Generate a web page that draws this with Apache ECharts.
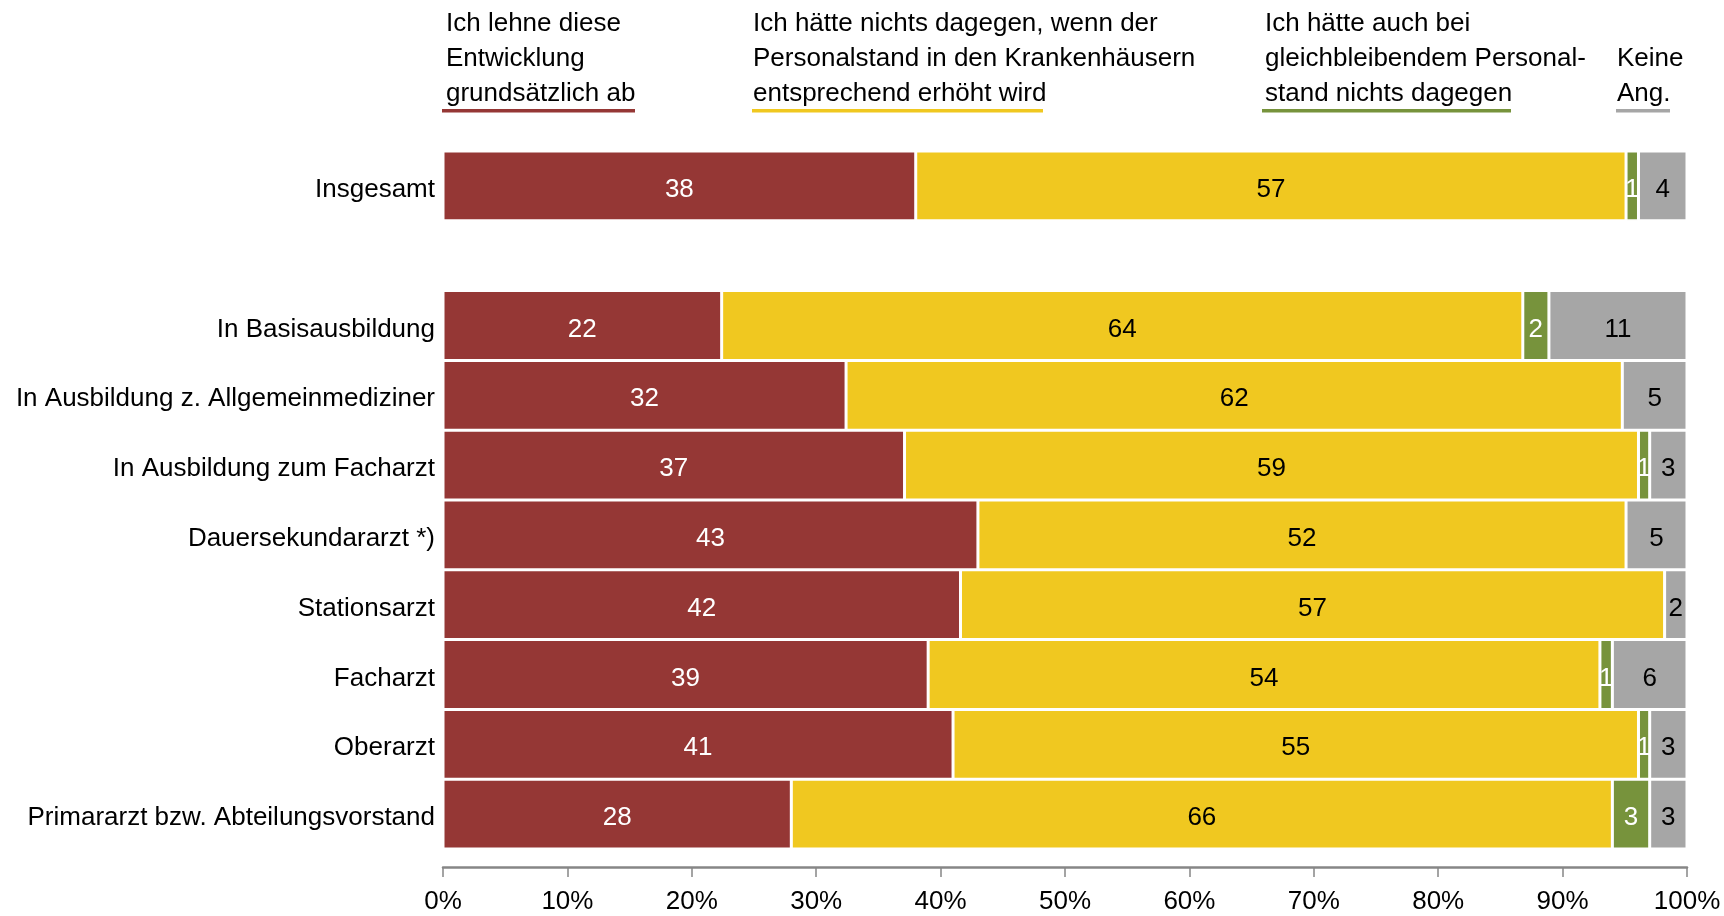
<!DOCTYPE html>
<html>
<head>
<meta charset="utf-8">
<script src="https://cdn.jsdelivr.net/npm/echarts@6/dist/echarts.min.js"></script>
<style>
html,body{margin:0;padding:0;background:#fff;}
#chart{width:1724px;height:916px;}
</style>
</head>
<body>
<div id="chart"></div>
<script>
// ---- data ----
const categories = ["Insgesamt", "", "In Basisausbildung", "In Ausbildung z. Allgemeinmediziner", "In Ausbildung zum Facharzt", "Dauersekundararzt *)", "Stationsarzt", "Facharzt", "Oberarzt", "Primararzt bzw. Abteilungsvorstand"];
const lehneAb   = [38.0, null, 22.4, 32.4, 37.1, 43.0, 41.6, 39.0, 41.0, 28.0];
const erhoeht   = [57.1, null, 64.4, 62.4, 59.0, 52.1, 56.6, 54.0, 55.1, 66.0];
const gleich    = [1.0,  null, 2.1,  0,    0.9,  0,    0,    1.0,  0.9,  3.0];
const keineAng  = [3.9,  null, 11.1, 5.2,  3.0,  4.9,  1.8,  6.0,  3.0,  3.0];
const seriesNames = [
  "Ich lehne diese\nEntwicklung\ngrundsätzlich ab",
  "Ich hätte nichts dagegen, wenn der\nPersonalstand in den Krankenhäusern\nentsprechend erhöht wird",
  "Ich hätte auch bei\ngleichbleibendem Personal-\nstand nichts dagegen",
  "Keine\nAng."
];
const tickLabels = ["0%", "10%", "20%", "30%", "40%", "50%", "60%", "70%", "80%", "90%", "100%"];

const colors = ["#953735", "#F0C820", "#77933C", "#A6A6A6"];
const labelColors = ["#ffffff", "#000000", "#ffffff", "#000000"];
const FONT = "'Liberation Sans', Arial, sans-serif";
const FS = 26;

const chart = echarts.init(document.getElementById('chart'), null, {renderer: 'canvas'});

function mkSeries(name, data, i) {
  return {
    name: name,
    type: 'bar',
    stack: 'total',
    data: data,
    barCategoryGap: 0,
    itemStyle: {color: colors[i], borderColor: '#ffffff', borderWidth: 1.5},
    label: {
      show: true,
      position: 'inside',
      offset: [0, 4],
      color: labelColors[i],
      fontFamily: FONT,
      fontSize: FS,
      formatter: p => (p.value == null || p.value === 0) ? '' : String(Math.round(p.value))
    },
    emphasis: {disabled: true},
    animation: false
  };
}

// legend-like headers built from series names
const legendX = [446, 753, 1265, 1617];
const lineEnds = [[442, 635], [752, 1043], [1262, 1511], [1616, 1670]];
const LH = 35;
const graphics = [];
seriesNames.forEach((n, i) => {
  const lines = n.split('\n').length;
  graphics.push({
    type: 'text',
    left: legendX[i],
    top: 6 + (3 - lines) * LH,
    silent: true,
    style: {text: n, fontFamily: FONT, fontSize: FS, lineHeight: LH, fill: '#000'}
  });
  graphics.push({
    type: 'rect',
    silent: true,
    shape: {x: lineEnds[i][0], y: 109, width: lineEnds[i][1] - lineEnds[i][0], height: 3.5},
    style: {fill: colors[i]}
  });
});

chart.setOption({
  animation: false,
  grid: {left: 443, right: 37, top: 151, bottom: 67, containLabel: false, outerBoundsMode: 'none'},
  xAxis: {
    type: 'value', min: 0, max: 100, interval: 10,
    offset: 18,
    axisLine: {show: true, lineStyle: {color: '#868686', width: 2.5}},
    axisTick: {show: true, length: 10, inside: false, lineStyle: {color: '#868686', width: 1.5}},
    splitLine: {show: false},
    axisLabel: {
      margin: 22, fontFamily: FONT, fontSize: FS, color: '#000',
      formatter: v => tickLabels[Math.round(v / 10)]
    }
  },
  yAxis: {
    type: 'category', data: categories, inverse: true,
    axisLine: {show: false}, axisTick: {show: false},
    axisLabel: {margin: 8, fontFamily: FONT, fontSize: FS, color: '#000', verticalAlign: 'top', lineHeight: 8}
  },
  series: [
    mkSeries(seriesNames[0], lehneAb, 0),
    mkSeries(seriesNames[1], erhoeht, 1),
    mkSeries(seriesNames[2], gleich, 2),
    mkSeries(seriesNames[3], keineAng, 3)
  ],
  graphic: graphics
});
</script>
</body>
</html>
